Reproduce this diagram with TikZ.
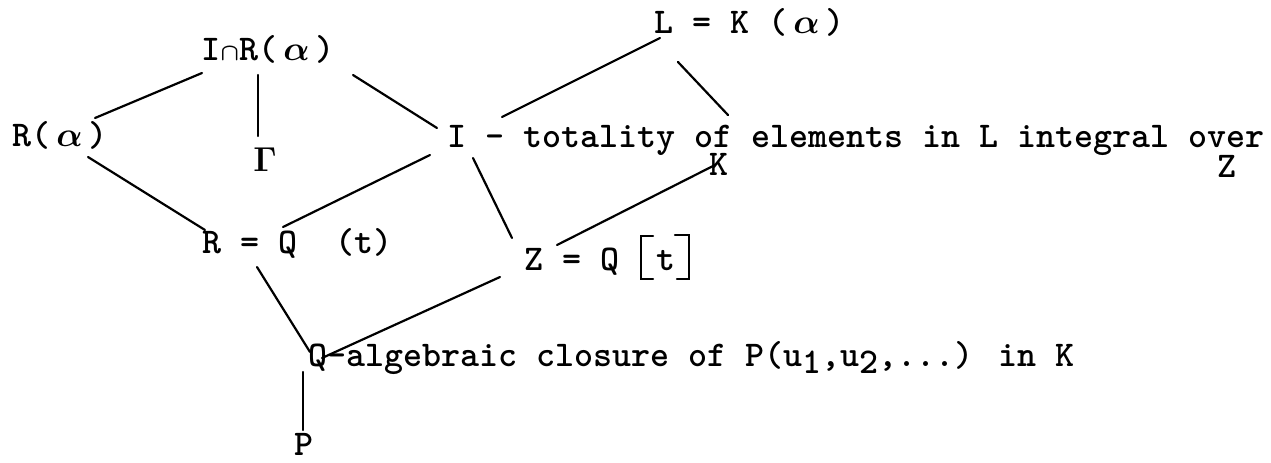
\documentclass[tikz,border=0pt]{standalone}
\usepackage{fontspec}
\newcommand\alp{\makebox[1.05em]{$\alpha$}}
\newcommand\capsym{\makebox[0.525em]{\fontsize{12}{12}\selectfont$\cap$}}
\newcommand\lowd[1]{\raisebox{-0.45ex}{#1}}
\tikzset{
  tt/.style={font=\ttfamily\bfseries\boldmath\fontsize{18.1}{20}\selectfont, inner sep=0pt, anchor=base west},
  ln/.style={line width=1.1pt, line cap=round},
}
\begin{document}
\begin{tikzpicture}[x=0.5pt,y=-0.5pt]
\useasboundingbox (0,0) rectangle (1271,462);
% nodes
\node[tt] (IR) at (201,60) {I\capsym R(\alp)};
\node[tt] (Ra) at (12,146) {R(\alp)};
\node[tt, anchor=center] (G) at (265,160) {$\Gamma$};
\node[tt] (L) at (654,33) {L = K (\alp)};
\node[tt] (I) at (447,147) {I - totality of elements in L integral over};
\node[tt, anchor=center] (K1) at (719,164) {K};
\node[tt, anchor=center] (Z1) at (1227,166) {Z};
\node[tt] (R) at (202,253) {R = Q\ \ (t)};
\node[tt] (Z) at (524,270) {Z = Q};
\node[tt, anchor=base] (t) at (666,270) {t};
\node[tt] (Q) at (308,366) {Q-algebraic closure of P(u\lowd{1},u\lowd{2},...) in K};
\node[tt, anchor=center] (P) at (304,444) {P};
% bracket around t
\draw[ln] (653,236) -- (641,236) -- (641,279) -- (653,279);
\draw[ln] (675,235) -- (689,235) -- (689,279) -- (677,279);
% connector end points
\coordinate (a1) at (202,73);  \coordinate (a2) at (95,118);
\coordinate (b1) at (353,75);  \coordinate (b2) at (437,128);
\coordinate (c1) at (258,75);  \coordinate (c2) at (258,136);
\coordinate (d1) at (88,157);  \coordinate (d2) at (205,230);
\coordinate (e1) at (430,155); \coordinate (e2) at (283,227);
\coordinate (f1) at (473,158); \coordinate (f2) at (512,238);
\coordinate (g1) at (660,38);  \coordinate (g2) at (502,117);
\coordinate (h1) at (678,62);  \coordinate (h2) at (728,115);
\coordinate (i1) at (557,245); \coordinate (i2) at (715,165);
\coordinate (j1) at (257,267); \coordinate (j2) at (310,352);
\coordinate (k1) at (500,277); \coordinate (k2) at (322,358);
\coordinate (l1) at (303,372); \coordinate (l2) at (303,430);
\draw[ln] (a1) -- (a2);
\draw[ln] (b1) -- (b2);
\draw[ln] (c1) -- (c2);
\draw[ln] (d1) -- (d2);
\draw[ln] (e1) -- (e2);
\draw[ln] (f1) -- (f2);
\draw[ln] (g1) -- (g2);
\draw[ln] (h1) -- (h2);
\draw[ln] (i1) -- (i2);
\draw[ln] (j1) -- (j2);
\draw[ln] (k1) -- (k2);
\draw[ln] (l1) -- (l2);
\end{tikzpicture}
\end{document}
